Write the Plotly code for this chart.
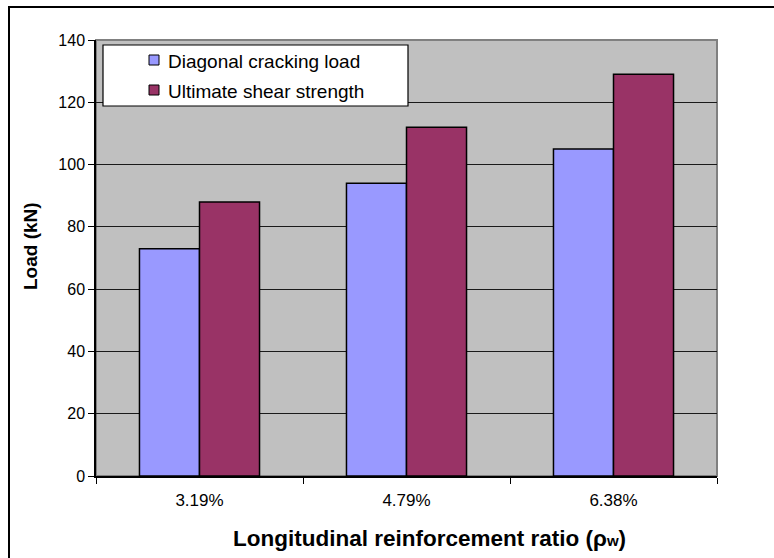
import plotly.graph_objects as go

categories = ["3.19%", "4.79%", "6.38%"]
diagonal_cracking = [73, 94, 105]
ultimate_shear = [88, 112, 129]
series_names = ["Diagonal cracking load", "Ultimate shear strength"]
series_colors = ["#9999FF", "#993366"]
y_ticks = [0, 20, 40, 60, 80, 100, 120, 140]

W, H = 774, 558
ML, MR, MT, MB = 96, 57, 40, 82
pw, ph = W - ML - MR, H - MT - MB


def px(x):
    return (x - ML) / pw


def py(y):
    return (H - MB - y) / ph


fig = go.Figure()
for name, vals, col in zip(series_names, [diagonal_cracking, ultimate_shear], series_colors):
    fig.add_trace(go.Bar(
        x=categories, y=vals, name=name,
        marker=dict(color=col, line=dict(color="#000000", width=1.5)),
    ))

font_main = "Arial, 'Liberation Sans', sans-serif"

shapes = [
    dict(type="rect", xref="paper", yref="paper", x0=0, x1=1, y0=0, y1=1,
         line=dict(color="#808080", width=2), layer="below"),
    dict(type="rect", xref="paper", yref="paper",
         x0=px(9), x1=px(W + 20), y0=py(H + 20), y1=py(7),
         line=dict(color="#000000", width=2), fillcolor="rgba(0,0,0,0)", layer="below"),
    # legend box
    dict(type="rect", xref="paper", yref="paper",
         x0=px(103), x1=px(408), y0=py(106), y1=py(45),
         line=dict(color="#000000", width=1.2), fillcolor="#FFFFFF", layer="above"),
]
annotations = []
for i, (name, col) in enumerate(zip(series_names, series_colors)):
    cy = 60 + 30 * i
    shapes.append(dict(type="rect", xref="paper", yref="paper",
                       x0=px(149), x1=px(159), y0=py(cy + 5), y1=py(cy - 5),
                       line=dict(color="#000000", width=1), fillcolor=col, layer="above"))
    annotations.append(dict(text=name, xref="paper", yref="paper",
                            x=px(166), y=py(cy + 1), xanchor="left", yanchor="middle",
                            showarrow=False,
                            font=dict(family=font_main, size=19, color="#000000")))

annotations.append(dict(text="<b>Longitudinal reinforcement ratio (ρ<span style='font-size:15px'>w</span>)</b>",
                        xref="paper", yref="paper", x=px(430), y=py(538),
                        xanchor="center", yanchor="middle", showarrow=False,
                        font=dict(family=font_main, size=22.5, color="#000000")))
annotations.append(dict(text="<b>Load (kN)</b>", textangle=-90,
                        xref="paper", yref="paper", x=px(30), y=py(246),
                        xanchor="center", yanchor="middle", showarrow=False,
                        font=dict(family=font_main, size=19, color="#000000")))

fig.update_layout(
    width=W, height=H,
    margin=dict(l=ML, r=MR, t=MT, b=MB, pad=0),
    paper_bgcolor="#FFFFFF",
    plot_bgcolor="#C0C0C0",
    barmode="group",
    bargap=0.42,
    bargroupgap=0,
    font=dict(family=font_main, color="#000000"),
    showlegend=False,
    xaxis=dict(
        range=[-0.5, 2.5],
        tickson="boundaries",
        ticks="outside", ticklen=6, tickcolor="#000000", tickwidth=1,
        showline=True, linecolor="#000000", linewidth=1.5,
        showgrid=False,
        tickfont=dict(family=font_main, size=17),
        ticklabelstandoff=8,
    ),
    yaxis=dict(
        range=[0, 140],
        tickvals=y_ticks,
        ticks="outside", ticklen=6, tickcolor="#000000", tickwidth=1,
        showline=True, linecolor="#000000", linewidth=1.5,
        showgrid=True, gridcolor="#1a1a1a", gridwidth=1.3,
        zeroline=False,
        tickfont=dict(family=font_main, size=16),
    ),
    shapes=shapes,
    annotations=annotations,
)

fig.write_html("out.html")
